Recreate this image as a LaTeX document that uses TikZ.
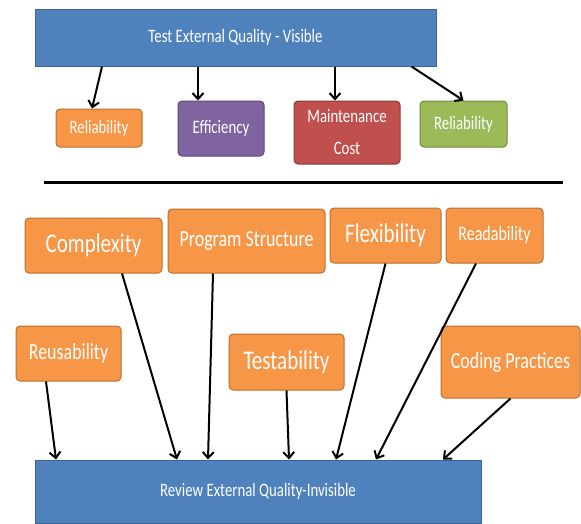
\documentclass[tikz,border=0pt]{standalone}
\usepackage{fontspec}
\setmainfont[FakeStretch=0.78]{Carlito}
\usetikzlibrary{calc, arrows.meta}
\definecolor{barblue}{HTML}{4F81BD}
\definecolor{barline}{HTML}{3A6496}
\definecolor{orangebox}{HTML}{F79646}
\definecolor{orangeline}{HTML}{B8702F}
\definecolor{purplebox}{HTML}{8064A2}
\definecolor{purpleline}{HTML}{5C4776}
\definecolor{redbox}{HTML}{C0504D}
\definecolor{redline}{HTML}{8C3836}
\definecolor{greenbox}{HTML}{9BBB59}
\definecolor{greenline}{HTML}{71893F}

\begin{document}
\begin{tikzpicture}[x=1pt, y=-1pt]
	\tikzstyle{quality}=[rectangle, draw=barline, fill=barblue, text=white,
	line width=1pt, font=\fontsize{19}{23}\selectfont]
	\tikzstyle{measure}=[rectangle, draw, rounded corners=4pt, text=white,
	line width=1pt, inner sep=2pt, align=center, font=\fontsize{19}{32}\selectfont]
	\tikzstyle{attribute}=[measure, draw=orangeline, fill=orangebox]
	\tikzstyle{link}=[line width=2pt, -{Straight Barb[length=6pt,width=11pt]}]

	\useasboundingbox (0,0) rectangle (581,523);

	\node[quality, minimum width=401, minimum height=57] at (235.5,37.5) (test) {Test External Quality - Visible};
	\node[measure, draw=orangeline, fill=orangebox, minimum width=86, minimum height=38] at (99,128) (rel1) {Reliability};
	\node[measure, draw=purpleline, fill=purplebox, minimum width=86, minimum height=55] at (221,128.5) (eff) {Efficiency};
	\node[measure, draw=redline, fill=redbox, minimum width=106, minimum height=63] at (347,132.5) (maint) {Maintenance\\Cost};
	\node[measure, draw=greenline, fill=greenbox, minimum width=87, minimum height=46] at (463.5,124) (rel2) {Reliability};

	\draw[line width=3pt] (44,182) -- (563,182);

	\node[attribute, minimum width=137, minimum height=55, font=\fontsize{27}{32}\selectfont] at (93.5,245.5) (complexity) {Complexity};
	\node[attribute, minimum width=157, minimum height=64, font=\fontsize{23}{28}\selectfont] at (246.5,241) (prog) {Program Structure};
	\node[attribute, minimum width=111, minimum height=55, font=\fontsize{27}{32}\selectfont] at (385.5,235.5) (flex) {Flexibility};
	\node[attribute, minimum width=97, minimum height=55, font=\fontsize{20.5}{25}\selectfont] at (494.5,235.5) (read) {Readability};
	\node[attribute, minimum width=105, minimum height=55, font=\fontsize{23}{28}\selectfont] at (68.5,353.5) (reuse) {Reusability};
	\node[attribute, minimum width=115, minimum height=56, font=\fontsize{27}{32}\selectfont] at (286.5,362) (testab) {Testability};
	\node[attribute, minimum width=139, minimum height=72, font=\fontsize{23}{28}\selectfont] at (510.5,362) (coding) {Coding Practices};

	\node[quality, minimum width=446, minimum height=63] at (258,491.5) (review) {Review External Quality-Invisible};

	% test side
	\draw[link] ($(test.south -| rel1)+(3,0)$) -- ($(rel1.north)+(-7,0)$);
	\draw[link] ($(test.south -| eff)+(-23,0)$) -- ($(eff.north)+(-23,0)$);
	\draw[link] ($(test.south -| maint)+(-12,0)$) -- ($(maint.north)+(-12,0)$);
	\draw[link] ($(test.south -| rel2)+(-52,0)$) -- (rel2.north);

	% review side
	\draw[link] ($(reuse.south)+(-22.5,0)$) -- ($(review.north -| reuse)+(-12.5,0)$);
	\draw[link] ($(complexity.south)+(28.5,0)$) -- ($(review.north -| complexity)+(83.5,0)$);
	\draw[link] ($(prog.south)+(-33.5,0)$) -- ($(review.north -| prog)+(-38.5,0)$);
	\draw[link] (testab.south) -- ($(review.north -| testab)+(2.5,0)$);
	\draw[link] (flex.south) -- ($(review.north -| flex)+(-49.5,0)$);
	\draw[link] ($(read.south)+(-18.5,0)$) -- ($(review.north -| read)+(-118.5,0)$);
	\draw[link] (coding.south) -- ($(review.north -| coding)+(-67.5,0)$);
\end{tikzpicture}
\end{document}
